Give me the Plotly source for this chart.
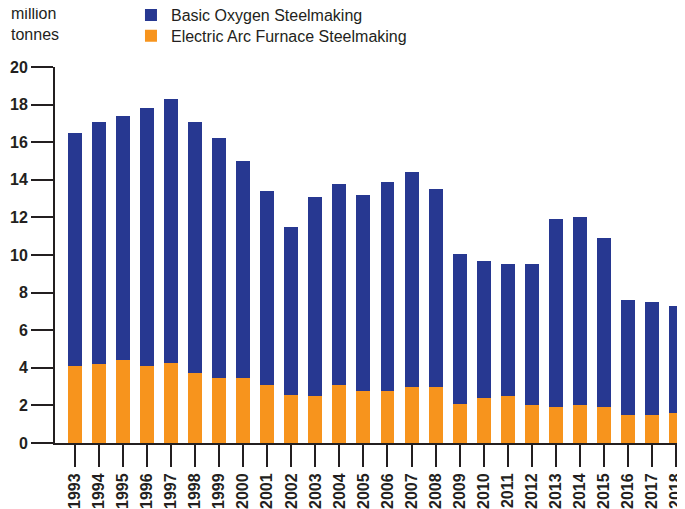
import plotly.graph_objects as go

years = [str(y) for y in range(1993, 2019)]
# total production (top of each bar) and the electric arc part, million tonnes
total = [16.5, 17.1, 17.4, 17.8, 18.3, 17.1, 16.2, 15.0, 13.4, 11.5, 13.1, 13.8, 13.2,
         13.9, 14.4, 13.5, 10.05, 9.7, 9.5, 9.5, 11.9, 12.0, 10.9, 7.6, 7.5, 7.3]
electric_arc = [4.1, 4.2, 4.4, 4.1, 4.25, 3.7, 3.46, 3.46, 3.1, 2.55, 2.5, 3.1, 2.77,
                2.77, 3.0, 3.0, 2.07, 2.4, 2.5, 2.0, 1.9, 2.0, 1.9, 1.5, 1.5, 1.6]
basic_oxygen = [round(t - e, 2) for t, e in zip(total, electric_arc)]

ink = "#231f20"
fnt = "Liberation Sans, Arial, sans-serif"

fig = go.Figure()
fig.add_trace(go.Bar(x=years, y=electric_arc, name="Electric Arc Furnace Steelmaking",
                     marker=dict(color="#f7941d", line_width=0), legend="legend2"))
fig.add_trace(go.Bar(x=years, y=basic_oxygen, name="Basic Oxygen Steelmaking",
                     marker=dict(color="#273891", line_width=0), legend="legend"))

leg = dict(orientation="v", x=0.1206, xanchor="left", yanchor="top",
           font=dict(size=16, color=ink, family=fnt), itemwidth=30,
           bgcolor="rgba(0,0,0,0)")

# page body has an 8px margin, so the figure is 8px smaller than the window
fig.update_layout(
    width=677, height=501,
    barmode="stack", bargap=0.42,
    plot_bgcolor="white", paper_bgcolor="white",
    margin=dict(l=47, r=0, t=59, b=66, autoexpand=False),
    font=dict(family=fnt, size=16, color=ink),
    showlegend=True,
    legend=dict(leg, y=1.183),
    legend2=dict(leg, y=1.128),
    annotations=[dict(text="million<br>tonnes", xref="paper", yref="paper",
                      x=-0.073, y=1.171, xanchor="left", yanchor="top", align="left",
                      showarrow=False, font=dict(size=16, color=ink))],
)

fig.update_xaxes(
    type="category", range=[-0.83, 25.375],
    showline=True, linecolor=ink, linewidth=2,
    ticks="outside", ticklen=22, tickwidth=2, tickcolor=ink,
    tickangle=-90, tickfont=dict(size=16, weight="bold", color=ink),
    showgrid=False, zeroline=False, automargin=False,
)
fig.update_yaxes(
    range=[0, 20], tickvals=list(range(0, 21, 2)),
    showline=True, linecolor=ink, linewidth=2,
    ticks="outside", ticklen=22, tickwidth=2, tickcolor=ink,
    tickfont=dict(size=16, weight="bold", color=ink),
    showgrid=False, zeroline=False, automargin=False,
)

fig.write_html("out.html")
